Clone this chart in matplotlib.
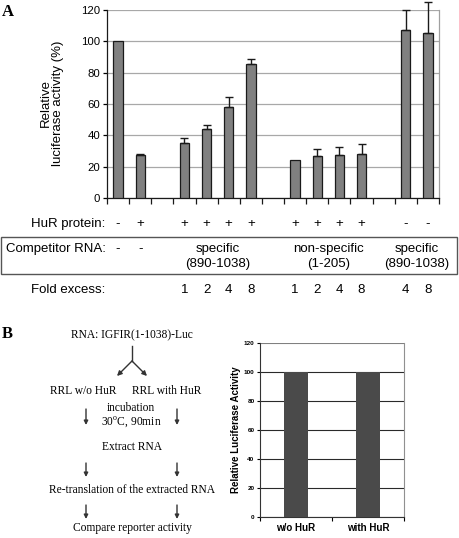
import numpy as np
import matplotlib
matplotlib.use("Agg")
import matplotlib.pyplot as plt
from matplotlib.patches import FancyArrowPatch

plt.rcParams["mathtext.fontset"] = "custom"
plt.rcParams["mathtext.rm"] = "Liberation Serif"

# ---------------- data ----------------
values_a = [100, 27.6, np.nan, 34.9, 44.1, 58.1, 85.7, np.nan,
            24.4, 26.6, 27.4, 28.3, np.nan, 107.1, 105.4]
errors_a = [0, 0.7, np.nan, 3.7, 2.6, 6.2, 2.8, np.nan,
            0, 4.5, 5.4, 6.4, np.nan, 12.9, 20.0]
hur_protein = ['-', '+', '', '+', '+', '+', '+', '', '+', '+', '+', '+', '', '-', '-']
competitor_single = ['-', '-']
competitor_groups = [("specific\n(890-1038)", 3, 6),
                     ("non-specific\n(1-205)", 8, 11),
                     ("specific\n(890-1038)", 13, 14)]
fold_excess = ['', '', '', '1', '2', '4', '8', '', '1', '2', '4', '8', '', '4', '8']
yticks_a = [0, 20, 40, 60, 80, 100, 120]

categories_b = ["w/o HuR", "with HuR"]
values_b = [100, 100]
yticks_b = [0, 20, 40, 60, 80, 100, 120]

flow_steps = ["RNA: IGFIR(1-1038)-Luc", "Extract RNA",
              "Re-translation of the extracted RNA", "Compare reporter activity"]

# ---------------- figure ----------------
W, H = 459, 538
fig = plt.figure(figsize=(W / 100, H / 100), dpi=100)
SANS = ["Liberation Sans", "DejaVu Sans"]
SERIF = ["Liberation Serif", "DejaVu Serif"]


def fx(x):
    return x / W


def fy(y):
    return 1 - y / H


def axrect(l, t, r, b):
    return [fx(l), fy(b), fx(r) - fx(l), (b - t) / H]


# ---------------- Panel A ----------------
L, T, R, B = 107, 10, 439, 198
axA = fig.add_axes(axrect(L, T, R, B))
n = len(values_a)
x = np.arange(n)
axA.bar(x, values_a, width=0.42, color="#808080", edgecolor="#1a1a1a",
        linewidth=0.9, zorder=3)
vals = np.array(values_a, dtype=float)
errs = np.array(errors_a, dtype=float)
mask = ~np.isnan(vals) & (np.nan_to_num(errs) > 0)
eb = axA.errorbar(x[mask], vals[mask], yerr=[np.zeros(mask.sum()), errs[mask]],
                  fmt="none", ecolor="#1a1a1a", elinewidth=1.0, capsize=3,
                  capthick=1.0, zorder=4)
for c in eb.get_children():
    c.set_clip_on(False)

axA.set_xlim(-0.5, n - 0.5)
axA.set_ylim(0, 120)
axA.set_yticks(yticks_a)
axA.set_yticklabels([str(v) for v in yticks_a], fontsize=8.2, family=SANS)
axA.set_xticks(np.arange(-0.5, n, 1.0))
axA.set_xticklabels([])
axA.tick_params(axis="x", direction="out", length=4, width=0.9, colors="#1a1a1a")
axA.tick_params(axis="y", direction="out", length=3, width=0.9, pad=2)
axA.yaxis.grid(True, color="#a8a8a8", linewidth=0.9, zorder=0)
axA.set_axisbelow(True)
for s in ["top", "right"]:
    axA.spines[s].set_color("#a0a0a0")
    axA.spines[s].set_linewidth(0.9)
for s in ["left", "bottom"]:
    axA.spines[s].set_color("#1a1a1a")
    axA.spines[s].set_linewidth(0.9)
axA.spines["top"].set_visible(False)

fig.text(fx(52), fy(103), "Relative\nluciferase activity (%)", rotation=90,
         ha="center", va="center", fontsize=9.5, family=SANS, linespacing=1.1)
fig.text(fx(2), fy(12), "A", fontsize=12, fontweight="bold", family=SERIF,
         ha="left", va="center")


def cx(i):
    return L + (i + 0.5) * (R - L) / n


rowfs = 9.5
y_hur, y_comp, y_comp2, y_fold = 224, 249, 264, 290
fig.text(fx(105), fy(y_hur), "HuR protein:", ha="right", va="center",
         fontsize=rowfs, family=SANS)
for i, s in enumerate(hur_protein):
    if s:
        fig.text(fx(cx(i)), fy(y_hur), s, ha="center", va="center",
                 fontsize=rowfs, family=SANS)

fig.text(fx(6), fy(y_comp), "Competitor RNA:", ha="left", va="center",
         fontsize=rowfs, family=SANS)
for i, s in enumerate(competitor_single):
    fig.text(fx(cx(i)), fy(y_comp), s, ha="center", va="center",
             fontsize=rowfs, family=SANS)
for label, i0, i1 in competitor_groups:
    xc = (cx(i0) + cx(i1)) / 2
    l1, l2 = label.split("\n")
    fig.text(fx(xc), fy(y_comp), l1, ha="center", va="center",
             fontsize=rowfs, family=SANS)
    fig.text(fx(xc), fy(y_comp2), l2, ha="center", va="center",
             fontsize=rowfs, family=SANS)

box = plt.Rectangle((fx(1), fy(274)), fx(457) - fx(1), fy(237) - fy(274),
                    transform=fig.transFigure, fill=False,
                    edgecolor="#555555", linewidth=1.0)
fig.add_artist(box)

fig.text(fx(105), fy(y_fold), "Fold excess:", ha="right", va="center",
         fontsize=rowfs, family=SANS)
for i, s in enumerate(fold_excess):
    if s:
        fig.text(fx(cx(i)), fy(y_fold), s, ha="center", va="center",
                 fontsize=rowfs, family=SANS)

# ---------------- Panel B: flow chart ----------------
fig.text(fx(2), fy(334), "B", fontsize=12, fontweight="bold", family=SERIF,
         ha="left", va="center")
sfs = 8.3
xm, xl, xr = 132, 86, 177
acol = "#333333"
fig.text(fx(xm), fy(335), flow_steps[0], ha="center", va="center",
         fontsize=sfs, family=SERIF)


def arrow(p0, p1, ms=6):
    fig.add_artist(FancyArrowPatch(
        (fx(p0[0]), fy(p0[1])), (fx(p1[0]), fy(p1[1])),
        transform=fig.transFigure, arrowstyle="-|>", mutation_scale=ms,
        color=acol, lw=1.0, shrinkA=0, shrinkB=0))


# branching Y
fig.add_artist(plt.Line2D([fx(xm), fx(xm)], [fy(346), fy(361)],
                          transform=fig.transFigure, color=acol, lw=1.0))
for xe in (117, 147):
    arrow((xm, 361), (xe, 376), ms=7)

fig.text(fx(83), fy(391), "RRL w/o HuR", ha="center", va="center",
         fontsize=sfs, family=SERIF)
fig.text(fx(167), fy(391), "RRL with HuR", ha="center", va="center",
         fontsize=sfs, family=SERIF)
fig.text(fx(131), fy(408), "incubation", ha="center", va="center",
         fontsize=sfs, family=SERIF)
fig.text(fx(131), fy(422), r"30$^{\mathrm{o}}$C, 90min", ha="center",
         va="center", fontsize=sfs, family=SERIF)
fig.text(fx(xm), fy(447), flow_steps[1], ha="center", va="center",
         fontsize=sfs, family=SERIF)
fig.text(fx(xm), fy(490), flow_steps[2], ha="center", va="center",
         fontsize=sfs, family=SERIF)
fig.text(fx(xm), fy(528), flow_steps[3], ha="center", va="center",
         fontsize=sfs, family=SERIF)

for (y0, y1) in [(409, 425), (463, 477), (505, 519)]:
    arrow((xl, y0), (xl, y1))
    arrow((xr, y0), (xr, y1))

# ---------------- Panel B: bar chart ----------------
axB = fig.add_axes(axrect(260, 343, 404, 517))
xb = np.arange(len(values_b))
axB.bar(xb, values_b, width=0.34, color="#4a4a4a", zorder=3)
axB.set_xlim(-0.5, len(values_b) - 0.5)
axB.set_ylim(0, 120)
axB.set_yticks(yticks_b)
axB.set_yticklabels([str(v) for v in yticks_b], fontsize=4.6,
                    fontweight="bold", family=SANS)
axB.set_xticks(xb)
axB.set_xticklabels(categories_b, fontsize=7, fontweight="bold", family=SANS)
axB.tick_params(axis="x", which="major", length=0, pad=4)
axB.set_xticks([-0.5, 0.5, 1.5], minor=True)
axB.tick_params(axis="x", which="minor", length=3, width=0.8, direction="out")
axB.tick_params(axis="y", length=2.5, width=0.8, pad=1.5, direction="out")
axB.yaxis.grid(True, color="#2a2a2a", linewidth=0.8, zorder=0)
axB.set_axisbelow(True)
axB.spines["top"].set_visible(False)
axB.spines["right"].set_color("#909090")
for s in ["left", "bottom"]:
    axB.spines[s].set_color("#333333")
    axB.spines[s].set_linewidth(0.8)
axB.get_ygridlines()[-1].set_color("#808080")
fig.text(fx(236), fy(430), "Relative Luciferase Activity", rotation=90,
         ha="center", va="center", fontsize=7, fontweight="bold", family=SANS)

fig.savefig("out.png", dpi=100)
